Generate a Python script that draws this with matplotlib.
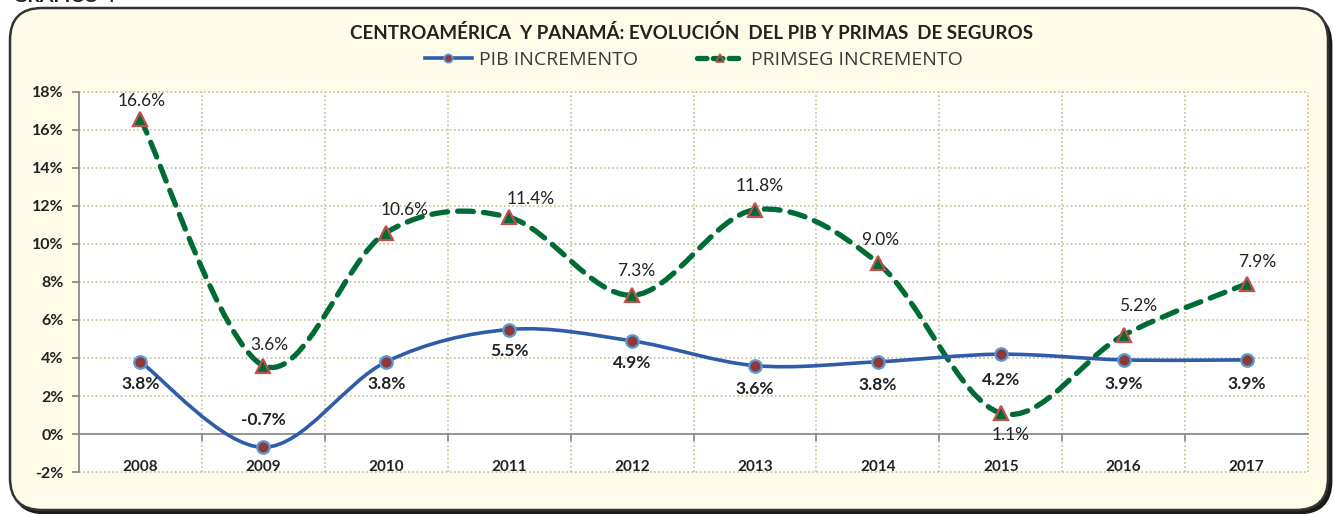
import matplotlib
matplotlib.use("Agg")
import matplotlib.pyplot as plt
from matplotlib.path import Path
from matplotlib.patches import PathPatch, FancyBboxPatch
from matplotlib.lines import Line2D
import numpy as np

# ---------------- data ----------------
years = ["2008", "2009", "2010", "2011", "2012", "2013", "2014", "2015", "2016", "2017"]
pib = [3.8, -0.7, 3.8, 5.5, 4.9, 3.6, 3.8, 4.2, 3.9, 3.9]
primseg = [16.6, 3.6, 10.6, 11.4, 7.3, 11.8, 9.0, 1.1, 5.2, 7.9]
yticks = [-2, 0, 2, 4, 6, 8, 10, 12, 14, 16, 18]
title = "CENTROAMÉRICA  Y PANAMÁ: EVOLUCIÓN  DEL PIB Y PRIMAS  DE SEGUROS"
series_names = ["PIB INCREMENTO", "PRIMSEG INCREMENTO"]

# ---------------- style ----------------
W, H = 1335, 514
BLUE = "#2E5BAA"
GREEN = "#006B35"
DOT_RED = "#8E3A3A"
EDGE_BLUE = "#5B9BD5"
TRI_EDGE = "#C0504D"
GRID = "#C4BD97"
SPINE = "#8C8C8C"
CREAM = "#FFFBE9"
FONT = ["Lato", "DejaVu Sans"]
plt.rcParams["font.family"] = FONT

# label offsets in pixels (style only)
pib_off = [(0, -22), (0, 27), (0, -22), (0, -22), (0, -22), (0, -23), (0, -23), (0, -26), (0, -24), (0, -24)]
prim_off = [(1, 18), (6, 21), (18, 23), (22, 18), (4, 24), (5, 24), (2, 23), (10, -22), (14, 29), (11, 22)]

fig = plt.figure(figsize=(W / 100, H / 100), dpi=100)
fig.patch.set_facecolor("white")

def fx(px):
    return px / W

def fy(py):
    return 1 - py / H

# rounded frame with shadow
shadow = FancyBboxPatch((fx(13), fy(513)), fx(1318), (511 - 11) / H,
                        boxstyle="round,pad=0,rounding_size=0.024",
                        transform=fig.transFigure, facecolor="#1a1a1a", edgecolor="#1a1a1a",
                        lw=2, mutation_aspect=W / H, zorder=-3)
fig.patches.append(shadow)
frame = FancyBboxPatch((fx(10), fy(510)), fx(1318), (510 - 8) / H,
                       boxstyle="round,pad=0,rounding_size=0.024",
                       transform=fig.transFigure, facecolor=CREAM, edgecolor="#333333",
                       lw=1.8, mutation_aspect=W / H, zorder=-2)
fig.patches.append(frame)

fig.text(fx(13), fy(2.5), "GRÁFICO 4", fontsize=14, fontweight="bold", color="#222222",
         ha="left", va="baseline", family=FONT)

# axes
ax = fig.add_axes([fx(79), fy(472), fx(1308 - 79), (472 - 92) / H])
ax.set_zorder(2)
ax.set_facecolor("white")
n = len(years)
x = np.arange(n)
ax.set_xlim(-0.5, n - 0.5)
ax.set_ylim(-2, 18)


def smooth_path(xs, ys):
    pts = np.column_stack([xs, ys]).astype(float)
    verts = [tuple(pts[0])]
    codes = [Path.MOVETO]
    m = len(pts)
    for i in range(m - 1):
        p0 = pts[i - 1] if i > 0 else pts[i]
        p1 = pts[i]
        p2 = pts[i + 1]
        p3 = pts[i + 2] if i + 2 < m else pts[i + 1]
        c1 = p1 + (p2 - p0) / 6.0
        c2 = p2 - (p3 - p1) / 6.0
        verts += [tuple(c1), tuple(c2), tuple(p2)]
        codes += [Path.CURVE4] * 3
    return Path(verts, codes)

# grid
for yv in yticks:
    if yv == 0:
        continue
    ax.axhline(yv, color=GRID, lw=1.2, ls=(0, (1, 1.5)), zorder=1, clip_on=False)
for xv in np.arange(0.5, n, 1.0):
    ax.axvline(xv, color=GRID, lw=1.2, ls=(0, (1, 1.5)), zorder=1, clip_on=False)

for s in ["top", "right"]:
    ax.spines[s].set_visible(False)
ax.spines["left"].set_color(SPINE)
ax.spines["left"].set_linewidth(1.3)
ax.spines["bottom"].set_position(("data", 0))
ax.spines["bottom"].set_color(SPINE)
ax.spines["bottom"].set_linewidth(1.3)

ax.set_yticks(yticks)
ax.set_yticklabels([f"{v}%" for v in yticks], fontsize=11.5, fontweight="bold", color="#222222")
ax.tick_params(axis="y", direction="out", length=5, color=SPINE, width=1.3, pad=6)

ax.set_xticks(x)
ax.set_xticklabels(years, fontsize=11, fontweight="bold", color="#222222")
ax.set_xticks(np.arange(0.5, n - 0.5, 1.0), minor=True)
ax.tick_params(axis="x", which="major", length=0, pad=19)
ax.tick_params(axis="x", which="minor", direction="out", length=5, color=SPINE, width=1.3)

# lines
pp = PathPatch(smooth_path(x, primseg), facecolor="none", edgecolor=GREEN, lw=3.8,
               linestyle=(0, (3.0, 1.9)), capstyle="round", zorder=3)
ax.add_patch(pp)
pb = PathPatch(smooth_path(x, pib), facecolor="none", edgecolor=BLUE, lw=2.6, zorder=4,
               capstyle="round")
ax.add_patch(pb)

ax.plot(x, pib, ls="none", marker="o", ms=9, mfc=DOT_RED, mec=EDGE_BLUE, mew=1.6, zorder=5)
ax.plot(x, primseg, ls="none", marker="^", ms=10, mfc=GREEN, mec=TRI_EDGE, mew=1.6, zorder=5)

for i in range(n):
    ax.annotate(f"{pib[i]:.1f}%", (x[i], pib[i]), xytext=pib_off[i], textcoords="offset pixels",
                ha="center", va="center", fontsize=12.5, fontweight="bold", color="#222222", zorder=6)
    ax.annotate(f"{primseg[i]:.1f}%", (x[i], primseg[i]), xytext=prim_off[i], textcoords="offset pixels",
                ha="center", va="center", fontsize=12.5, color="#222222", zorder=6)

# title
fig.text(fx(691), fy(33), title, fontsize=13.5, fontweight="bold", ha="center", va="center",
         color="#222222", family=FONT)

handles = [
    Line2D([], [], color=BLUE, lw=2.6, marker="o", ms=6, mfc=DOT_RED, mec=EDGE_BLUE, mew=1.2),
    Line2D([], [], color=GREEN, lw=3.8, ls=(0, (1.8, 1.2)), marker="^", ms=6, mfc=GREEN,
           mec=TRI_EDGE, mew=1.2, solid_capstyle="round", dash_capstyle="round"),
]
leg = fig.legend(handles, series_names, loc="center", bbox_to_anchor=(fx(694), fy(60)), ncol=2,
                 frameon=False, handlelength=2.4, handletextpad=0.4,
                 columnspacing=3.0, numpoints=1, borderpad=0,
                 prop={"family": ["Open Sans", "DejaVu Sans"], "size": 14})
for t in leg.get_texts():
    t.set_color("#3a3a3a")

fig.savefig("out.png", dpi=100, facecolor="white")
